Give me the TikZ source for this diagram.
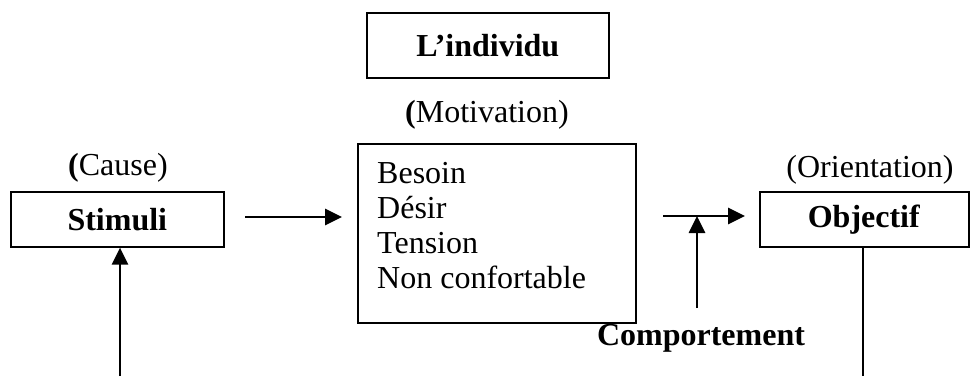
\documentclass[tikz,border=0pt]{standalone}
\usepackage{fontspec}
\setmainfont{Liberation Serif}
\usetikzlibrary{arrows.meta}
\begin{document}
\begin{tikzpicture}[x=1pt,y=-1pt,
  every node/.style={font=\fontsize{32}{35}\selectfont, inner sep=0pt},
  bold/.style={font=\fontsize{32}{35}\selectfont\bfseries},
  box/.style={draw, line width=1.6pt, anchor=north west},
  arr/.style={line width=2.7pt, -{Triangle[length=17pt,width=16pt]}},
  plain/.style={line width=1.5pt}]
  \useasboundingbox (0,0) rectangle (970,376);

  % top label box
  \node[box, minimum width=242pt, minimum height=65pt] (indiv) at (366,12) {};
  \node[bold] (indivtxt) at (indiv.center) {L’individu};
  \node (motivlbl) at (487,115) {\textbf{(}Motivation)};

  % central motivation box
  \node[box, minimum width=278pt, minimum height=179pt] (motiv) at (357,143) {};
  \node[anchor=west, align=left] (motivlist) at (377,226)
    {Besoin\\Désir\\Tension\\Non confortable};

  % left box
  \node (causelbl) at (118,168) {\textbf{(}Cause)};
  \node[box, minimum width=213pt, minimum height=55pt] (stimuli) at (10,191) {};
  \node[bold] (stimtxt) at (stimuli.center) {Stimuli};

  % right box
  \node (orientlbl) at (870,170) {(Orientation)};
  \node[box, minimum width=209pt, minimum height=55pt] (objectif) at (759,191) {};
  \node[bold] (objtxt) at ([xshift=-0.5pt]objectif.center) {Objectif};

  \node[bold] (comport) at (701,338) {Comportement};

  % connectors
  \coordinate (a1s) at (245,217);
  \coordinate (a1e) at (342,217);
  \draw[arr] (a1s) -- (a1e);

  \coordinate (a2s) at (120,376);
  \draw[arr] (a2s) -- (a2s |- stimuli.south);

  \coordinate (a3s) at (663,216);
  \coordinate (a3e) at (745,216);
  \draw[arr] (a3s) -- (a3e);

  \coordinate (a4s) at (697,308);
  \draw[arr] (a4s) -- (a4s |- a3s);

  \coordinate (a5e) at (863,376);
  \draw[plain] (a5e |- objectif.south) -- (a5e);
\end{tikzpicture}
\end{document}
